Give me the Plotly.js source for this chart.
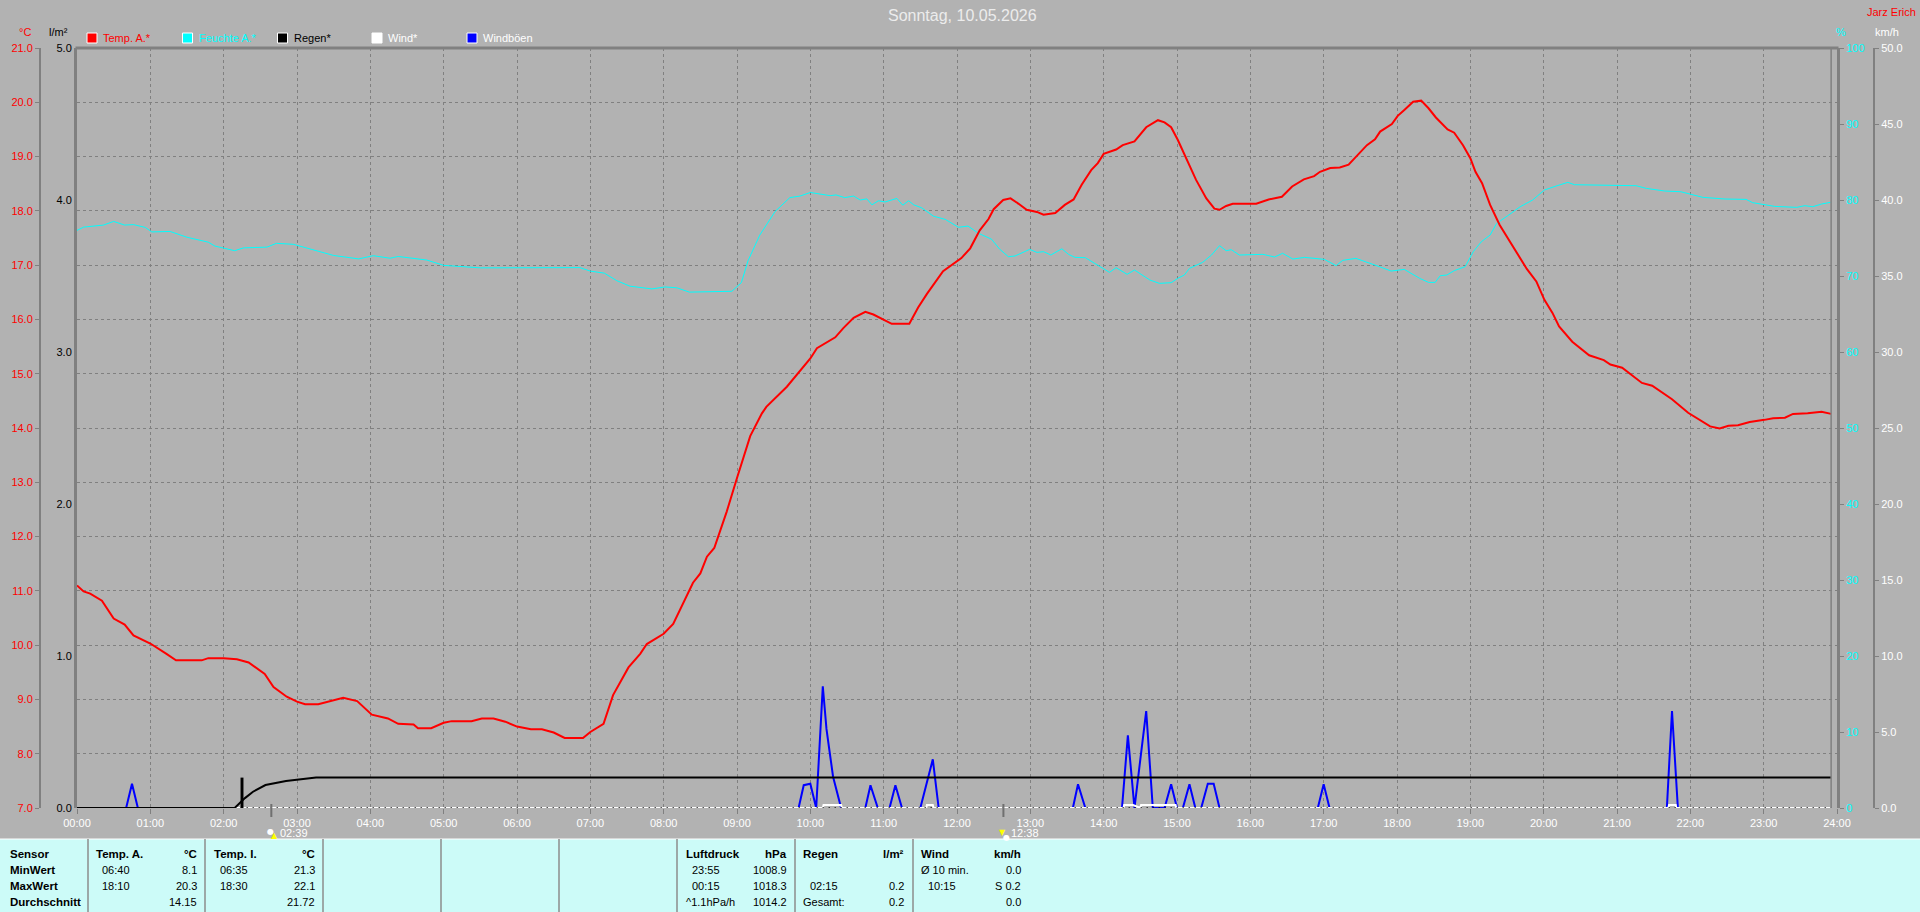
<!DOCTYPE html>
<html><head><meta charset="utf-8">
<script src="https://cdn.plot.ly/plotly-3.0.1.min.js"></script>
<style>html,body{margin:0;padding:0;background:#b2b2b2;overflow:hidden}</style>
</head><body><div id="chart" style="width:1920px;height:912px"></div>
<script>
const tempHours=[0,0.09,0.18,0.34,0.5,0.65,0.77,1,1.22,1.35,1.7,1.79,2,2.18,2.34,2.56,2.68,2.86,3,3.11,3.29,3.4,3.63,3.82,4.02,4.24,4.38,4.59,4.65,4.83,5,5.11,5.38,5.52,5.68,5.84,6,6.19,6.34,6.5,6.65,6.9,7,7.18,7.31,7.52,7.68,7.77,8,8.13,8.4,8.5,8.59,8.69,8.86,9,9.13,9.18,9.34,9.4,9.68,9.86,10,10.09,10.34,10.45,10.59,10.75,10.86,11.11,11.35,11.47,11.59,11.81,12.06,12.18,12.31,12.43,12.5,12.63,12.73,12.84,12.95,13.09,13.18,13.34,13.47,13.59,13.7,13.83,13.92,14,14.17,14.26,14.42,14.58,14.74,14.83,14.92,15.01,15.12,15.26,15.4,15.51,15.58,15.67,15.76,16.08,16.25,16.43,16.57,16.73,16.87,16.95,17.09,17.22,17.34,17.59,17.7,17.77,17.93,18.01,18.1,18.22,18.33,18.43,18.53,18.69,18.78,18.9,19,19.07,19.16,19.27,19.4,19.52,19.7,19.77,19.9,20.01,20.12,20.21,20.39,20.53,20.62,20.82,20.91,21.07,21.34,21.48,21.75,21.97,22.13,22.27,22.4,22.52,22.65,22.81,23.01,23.13,23.29,23.4,23.6,23.79,23.92];
const tempValues=[11.1,10.99,10.95,10.82,10.49,10.38,10.18,10.03,9.84,9.72,9.72,9.76,9.76,9.74,9.68,9.47,9.23,9.05,8.96,8.91,8.91,8.95,9.03,8.97,8.72,8.65,8.55,8.54,8.47,8.47,8.57,8.6,8.6,8.65,8.65,8.59,8.5,8.45,8.45,8.39,8.29,8.29,8.4,8.55,9.08,9.59,9.84,10.02,10.21,10.39,11.15,11.32,11.63,11.79,12.46,13.08,13.67,13.85,14.27,14.39,14.76,15.05,15.28,15.47,15.67,15.84,16.03,16.14,16.09,15.92,15.92,16.22,16.47,16.89,17.13,17.31,17.64,17.85,18.03,18.2,18.23,18.13,18.02,17.98,17.93,17.96,18.11,18.21,18.48,18.75,18.88,19.05,19.13,19.21,19.28,19.54,19.67,19.63,19.54,19.31,18.97,18.57,18.23,18.04,18.02,18.09,18.13,18.13,18.21,18.26,18.45,18.58,18.64,18.72,18.79,18.8,18.85,19.21,19.32,19.46,19.6,19.75,19.86,20.01,20.03,19.89,19.72,19.5,19.44,19.21,18.97,18.72,18.51,18.11,17.74,17.47,17.07,16.93,16.7,16.36,16.12,15.87,15.59,15.44,15.34,15.25,15.17,15.11,14.83,14.78,14.53,14.28,14.14,14.03,13.99,14.04,14.05,14.11,14.15,14.18,14.19,14.26,14.27,14.3,14.26];
const humHours=[0,0.09,0.36,0.5,0.65,0.77,0.93,1.02,1.27,1.5,1.79,1.88,2.15,2.27,2.59,2.72,2.95,3.25,3.5,3.84,4.04,4.27,4.38,4.77,5,5.5,6.18,6.63,6.86,7,7.19,7.36,7.54,7.84,8.02,8.18,8.35,8.93,9.06,9.15,9.31,9.52,9.72,9.86,10,10.27,10.35,10.47,10.59,10.68,10.77,10.84,10.93,11.02,11.18,11.26,11.34,11.41,11.52,11.68,11.84,12.02,12.15,12.29,12.47,12.58,12.7,12.79,12.99,13.09,13.18,13.28,13.43,13.52,13.61,13.75,14.08,14.17,14.32,14.42,14.63,14.76,14.92,15.01,15.1,15.17,15.35,15.47,15.58,15.67,15.74,15.85,16.17,16.33,16.44,16.58,16.74,17.01,17.17,17.26,17.44,17.76,17.92,18.1,18.31,18.43,18.52,18.59,18.68,18.78,18.93,19.04,19.15,19.27,19.36,19.52,19.68,19.85,20.01,20.17,20.33,20.42,20.99,21.26,21.4,21.65,21.87,22.17,22.47,22.76,22.85,23.15,23.45,23.56,23.67,23.79,23.91];
const humValues=[76,76.43,76.7,77.18,76.7,76.76,76.4,75.8,75.86,75.1,74.45,73.94,73.33,73.7,73.8,74.3,74.17,73.42,72.7,72.25,72.67,72.34,72.57,72.1,71.4,71.07,71.05,71.1,71.1,70.64,70.38,69.39,68.66,68.3,68.56,68.45,67.88,67.99,69.13,72,75.37,78.49,80.31,80.52,80.99,80.57,80.67,80.31,80.52,80,80.15,79.37,79.9,79.74,80.21,79.32,79.9,79.37,78.96,77.87,77.45,76.41,76.57,75.63,74.85,73.55,72.54,72.63,73.5,73.11,73.2,72.76,73.59,72.85,72.45,72.41,70.48,71.09,70.22,70.79,69.47,69.03,69.12,69.69,70.13,71,71.8,72.76,73.99,73.33,73.46,72.76,72.85,72.5,72.98,72.23,72.45,72.19,71.36,72.06,72.32,71.23,70.65,70.87,69.69,69.16,69.16,70.04,70.13,70.7,71.23,73.2,74.51,75.39,76.93,78,79.12,80,81.31,81.84,82.32,82.01,81.97,81.88,81.53,81.18,81.09,80.35,80.13,80.08,79.65,79.16,79.03,79.25,79.12,79.47,79.69];
const rainHours=[0,2.15,2.29,2.4,2.57,2.85,3.26,23.92];
const rainValues=[0,0,0.065,0.107,0.151,0.178,0.2,0.2];
const rainBarHours=[2.25];
const rainBarValues=[0.2];
const rainRateHours=[2.15,23.92];
const rainRateValues=[0,0];
const windHours=[0,10.17,10.18,10.42,10.43,11.58,11.59,11.67,11.68,14.27,14.28,14.4,14.5,14.51,14.98,14.99,21.7,21.71,21.8,21.81,23.92];
const windValues=[0,0,0.2,0.2,0,0,0.2,0.2,0,0,0.2,0.2,0,0.2,0.2,0,0,0.2,0.2,0,0];
const gustHours=[0,0.67,0.75,0.83,9.84,9.91,10,10.08,10.17,10.22,10.26,10.31,10.42,10.75,10.82,10.92,11.08,11.16,11.25,11.5,11.67,11.75,13.58,13.65,13.75,14.25,14.33,14.42,14.5,14.58,14.67,14.83,14.92,15,15.08,15.17,15.25,15.33,15.42,15.5,15.58,16.92,17,17.08,21.68,21.75,21.83,23.92];
const gustValues=[0,0,1.6,0,0,1.5,1.6,0,8,5.2,3.8,2.06,0,0,1.5,0,0,1.5,0,0,3.2,0,0,1.56,0,0,4.78,0,3.2,6.38,0,0,1.56,0,0,1.56,0,0,1.6,1.6,0,0,1.56,0,0,6.38,0,0];
const hourTicks=[0,1,2,3,4,5,6,7,8,9,10,11,12,13,14,15,16,17,18,19,20,21,22,23,24];
const hourLabels=["00:00","01:00","02:00","03:00","04:00","05:00","06:00","07:00","08:00","09:00","10:00","11:00","12:00","13:00","14:00","15:00","16:00","17:00","18:00","19:00","20:00","21:00","22:00","23:00","24:00"];
const titleText="Sonntag, 10.05.2026";
const ownerText="Jarz Erich";
const legendNames=["Temp. A.*","Feuchte A.*","Regen*","Wind*","Windböen"];
const sunriseHour=2.65, sunsetHour=12.633;
const sunriseLabel="02:39", sunsetLabel="12:38";
const sensorRowNames=["Sensor","MinWert","MaxWert","Durchschnitt"];
const tempAHead=["Temp. A.","°C"], tempATimes=["06:40","18:10",""], tempAVals=["8.1","20.3","14.15"];
const tempIHead=["Temp. I.","°C"], tempITimes=["06:35","18:30",""], tempIVals=["21.3","22.1","21.72"];
const pressHead=["Luftdruck","hPa"], pressTimes=["23:55","00:15","^1.1hPa/h"], pressVals=["1008.9","1018.3","1014.2"];
const rainHead=["Regen","l/m²"], rainTimes=["","02:15","Gesamt:"], rainVals=["","0.2","0.2"];
const windHead=["Wind","km/h"], windTimes=["Ø 10 min.","10:15",""], windVals=["0.0","S 0.2","0.0"];

const W=1920,H=912;
const L=77,R=1837,T=48,B=808;
const px=x=>x/W, py=y=>1-y/H;
const FONT='"Liberation Sans", Arial, sans-serif';
const GRID='#808080';
const BG='#b2b2b2';
const annotations=[], shapes=[];
function text(t,x,y,opt={}){
  if(!t) return;
  annotations.push({text:opt.bold?'<b>'+t+'</b>':t,xref:'paper',yref:'paper',x:px(x),y:py(y),xanchor:opt.anchor||'left',yanchor:'middle',
    showarrow:false,borderpad:0,font:{family:opt.family||FONT,size:opt.size||11,color:opt.color||'#000'}});
}
function line(x0,y0,x1,y1,color,width){
  shapes.push({type:'line',xref:'paper',yref:'paper',x0:px(x0),y0:py(y0),x1:px(x1),y1:py(y1),line:{color:color,width:width}});
}
// chart frame, top edge
line(L-1.5,T,R+1.5,T,GRID,3);
// current-time marker and sun ticks
shapes.push({type:'line',xref:'x',yref:'paper',x0:tempHours[tempHours.length-1],x1:tempHours[tempHours.length-1],y0:py(B),y1:py(T),line:{color:GRID,width:1.5}});
[sunriseHour,sunsetHour].forEach(h=>shapes.push({type:'line',xref:'x',yref:'paper',x0:h,x1:h,y0:py(804),y1:py(817),line:{color:'#707070',width:2}}));
// bottom panel
shapes.push({type:'rect',xref:'paper',yref:'paper',x0:0,x1:1,y0:0,y1:py(839),fillcolor:'#ccfbf8',line:{width:0}});
line(0,839,W,839,'#ffffff',1);
[88,205,323,441,559,677,795,913].forEach(x=>line(x,839,x,912,'#8c8c8c',1.5));
// headline
text(titleText,962,15,{anchor:'center',size:16,color:'#ececec'});
text(ownerText,1917,12,{anchor:'right',size:11,color:'#ff0000'});
text('°C',25,32,{anchor:'center',color:'#ff0000'});
text('l/m²',58,32,{anchor:'center',color:'#000'});
text('%',1841,32,{anchor:'center',color:'#00ffff'});
text('km/h',1887,32,{anchor:'center',color:'#ffffff'});
// legend
const legendColors=['#ff0000','#00ffff','#000000','#ffffff','#0000ff'];
const legendText=['#ff0000','#00ffff','#000000','#ffffff','#ffffff'];
[87,182.5,277.5,372,467].forEach((x,i)=>{
  shapes.push({type:'rect',xref:'paper',yref:'paper',x0:px(x),x1:px(x+10),y0:py(43),y1:py(33),fillcolor:legendColors[i],line:{color:'#ffffff',width:1}});
  text(legendNames[i],x+15,38,{color:legendText[i]});
});
// sun markers
text('●',270,831,{anchor:'center',size:8,color:'#ffffff',family:'"DejaVu Sans"'});
text('▲',274,835,{anchor:'center',size:8,color:'#ffff00',family:'"DejaVu Sans"'});
text(sunriseLabel,279,833,{color:'#ffffff'});
text('▼',1002,832,{anchor:'center',size:8,color:'#ffff00',family:'"DejaVu Sans"'});
text('●',1006,837,{anchor:'center',size:8,color:'#ffffff',family:'"DejaVu Sans"'});
text(sunsetLabel,1010,833,{color:'#ffffff'});
// table
const rows=[854,870,886,902];
sensorRowNames.forEach((t,i)=>text(t,8.6,rows[i],{bold:true,size:11.5}));
function col(head,times,vals,xl,xt,xr){
  text(head[0],xl,rows[0],{bold:true,size:11.5});
  text(head[1],xr,rows[0],{bold:true,anchor:'right',size:11.5});
  times.forEach((t,i)=>text(t,(t.indexOf(':')===2&&t.length===5)?xt:xl,rows[i+1]));
  vals.forEach((t,i)=>text(t,xr,rows[i+1],{anchor:'right'}));
}
col(tempAHead,tempATimes,tempAVals,95,101,198);
col(tempIHead,tempITimes,tempIVals,213,219,316);
col(pressHead,pressTimes,pressVals,685,691,788);
col(rainHead,rainTimes,rainVals,802,809,905);
col(windHead,windTimes,windVals,920,926.5,1022);

const lineTrace=(x,y,axis,color,width,name,extra={})=>Object.assign({type:'scatter',mode:'lines',x,y,yaxis:axis,name,line:{color,width,shape:'linear'},hoverinfo:'skip',cliponaxis:false},extra);
const data=[
  lineTrace(gustHours,gustValues,'y','#0000ff',2,'Windböen'),
  lineTrace(windHours,windValues,'y','#ffffff',2,'Wind*'),
  lineTrace(humHours,humValues,'y2','#00ffff',1,'Feuchte A.*'),
  lineTrace(rainHours,rainValues,'y3','#000000',2,'Regen*'),
  lineTrace(rainRateHours,rainRateValues,'y3','#000000',2,'Regen Rate',{line:{color:'#000000',width:2,dash:'1px,5px'}}),
  {type:'bar',x:rainBarHours,y:rainBarValues,yaxis:'y3',width:0.04,marker:{color:'#000000',line:{width:0}},name:'Regen',hoverinfo:'skip'},
  lineTrace(tempHours,tempValues,'y4','#ff0000',2,'Temp. A.*')
];
const tickFont=c=>({family:FONT,size:11,color:c});
const yBase={domain:[py(B),py(T)],showgrid:false,zeroline:false,fixedrange:true,ticks:'outside',ticklen:4,tickwidth:1,tickcolor:GRID,showline:true,linecolor:GRID};
const layout={
  width:W,height:H,autosize:false,margin:{l:0,r:0,t:0,b:0,pad:0},
  paper_bgcolor:BG,plot_bgcolor:BG,showlegend:false,barmode:'overlay',
  xaxis:{domain:[px(L),px(R)],range:[0,24],tickvals:hourTicks,ticktext:hourLabels,tickfont:tickFont('#ffffff'),ticks:'outside',ticklen:5,tickwidth:1,tickcolor:GRID,
    showgrid:true,gridcolor:GRID,griddash:'3px,3px',gridwidth:1,zeroline:false,showline:false,fixedrange:true,tickangle:0,anchor:'y4'},
  yaxis:Object.assign({},yBase,{range:[0,50],dtick:5,tick0:0,tickformat:'.1f',tickfont:tickFont('#ffffff'),anchor:'free',position:px(1874),side:'right',linewidth:2}),
  yaxis2:Object.assign({},yBase,{range:[0,100],dtick:10,tick0:0,tickfont:tickFont('#00ffff'),overlaying:'y',anchor:'x',side:'right',linewidth:3}),
  yaxis3:Object.assign({},yBase,{range:[0,5],dtick:1,tick0:0,tickformat:'.1f',tickfont:tickFont('#000000'),overlaying:'y',anchor:'x',side:'left',linewidth:3,ticks:'',ticklen:0}),
  yaxis4:Object.assign({},yBase,{range:[7,21],dtick:1,tick0:7,tickformat:'.1f',tickfont:tickFont('#ff0000'),overlaying:'y',anchor:'free',position:px(40),side:'left',linewidth:2,showgrid:true,gridcolor:GRID,griddash:'3px,3px',gridwidth:1}),
  annotations,shapes
};
Plotly.newPlot('chart',data,layout,{staticPlot:true,displayModeBar:false});
</script></body></html>
